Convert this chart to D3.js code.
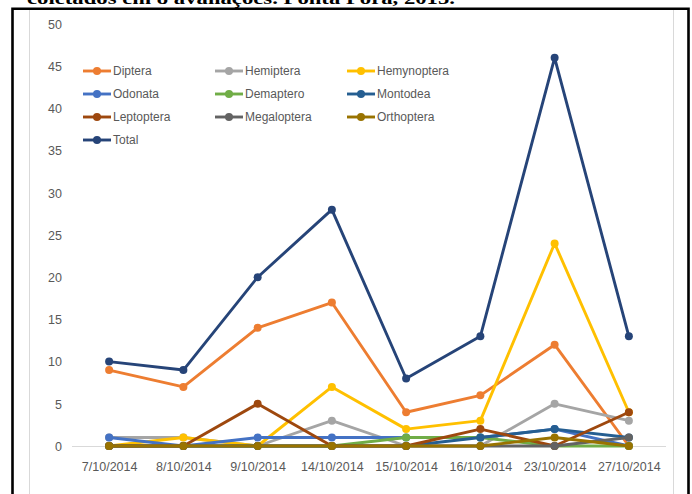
<!DOCTYPE html>
<html>
<head>
<meta charset="utf-8">
<script src="https://cdn.jsdelivr.net/npm/d3@7"></script>
<style>
  html, body { margin: 0; padding: 0; background: #fff; }
  svg { display: block; }
</style>
</head>
<body>
<svg id="chart" width="692" height="494"></svg>
<script>
// Sampling dates
const dates = ["7/10/2014", "8/10/2014", "9/10/2014", "14/10/2014", "15/10/2014", "16/10/2014", "23/10/2014", "27/10/2014"];

// Insects collected per order on each date
const diptera     = [9, 7, 14, 17, 4, 6, 12, 0];
const hemiptera   = [1, 1, 0, 3, 0, 0, 5, 3];
const hemynoptera = [0, 1, 0, 7, 2, 3, 24, 4];
const odonata     = [1, 0, 1, 1, 1, 1, 2, 0];
const demaptero   = [0, 0, 0, 0, 1, 1, 0, 0];
const montodea    = [0, 0, 0, 0, 0, 1, 2, 1];
const leptoptera  = [0, 0, 5, 0, 0, 2, 0, 4];
const megaloptera = [0, 0, 0, 0, 0, 0, 0, 1];
const orthoptera  = [0, 0, 0, 0, 0, 0, 1, 0];
const total       = [10, 9, 20, 28, 8, 13, 46, 13];

const seriesNames = ["Diptera", "Hemiptera", "Hemynoptera", "Odonata", "Demaptero", "Montodea", "Leptoptera", "Megaloptera", "Orthoptera", "Total"];
const seriesValues = [diptera, hemiptera, hemynoptera, odonata, demaptero, montodea, leptoptera, megaloptera, orthoptera, total];
const seriesColors = ["#ED7D31", "#A5A5A5", "#FFC000", "#4472C4", "#70AD47", "#255E91", "#9E480E", "#636363", "#997300", "#264478"];

const yTicks = [0, 5, 10, 15, 20, 25, 30, 35, 40, 45, 50];

const captionText = "coletados em 8 avaliações. Ponta Porã, 2015.";

const svg = d3.select("#chart");

// Caption line above the figure frame (partly cut off by the top edge)
svg.append("text")
  .attr("x", 27)
  .attr("y", 4)
  .attr("font-family", "'Liberation Serif', 'Times New Roman', serif")
  .attr("font-weight", "bold")
  .attr("font-size", 17)
  .attr("fill", "#000")
  .attr("textLength", 428)
  .attr("lengthAdjust", "spacingAndGlyphs")
  .text(captionText);

// Chart area border (light gray)
svg.append("line").attr("x1", 29.5).attr("x2", 29.5).attr("y1", 9).attr("y2", 494)
  .attr("stroke", "#d9d9d9").attr("stroke-width", 1);
svg.append("line").attr("x1", 673.5).attr("x2", 673.5).attr("y1", 9).attr("y2", 494)
  .attr("stroke", "#d9d9d9").attr("stroke-width", 1);

// Black figure frame
svg.append("path")
  .attr("d", "M12.5,500 L12.5,8.75 L688.5,8.75 L688.5,500")
  .attr("fill", "none")
  .attr("stroke", "#000")
  .attr("stroke-width", 2.6);

const x = d3.scalePoint().domain(dates).range([72, 666]).padding(0.5);
const y = d3.scaleLinear().domain([0, 50]).range([446, 24]);

const fontFamily = "'Liberation Sans', Arial, sans-serif";
const textColor = "#595959";

// Y axis (labels only)
const yAxis = d3.axisLeft(y).tickValues(yTicks).tickSize(0).tickPadding(0);
const gy = svg.append("g").attr("transform", "translate(62,0)").call(yAxis);
gy.select(".domain").remove();
gy.selectAll("text")
  .attr("font-family", fontFamily)
  .attr("font-size", 12.5)
  .attr("fill", textColor)
  .attr("dy", "0.35em");

// X axis: baseline plus date labels
const xAxis = d3.axisBottom(x).tickSize(0).tickPadding(16);
const gx = svg.append("g").attr("transform", `translate(0,${y(0)})`).call(xAxis);
gx.select(".domain").attr("stroke", "#d9d9d9").attr("stroke-width", 1)
  .attr("d", "M72,0.5H666");
gx.selectAll("text")
  .attr("font-family", fontFamily)
  .attr("font-size", 12.5)
  .attr("fill", textColor);

// Series lines and markers
const line = d3.line().x((d, i) => x(dates[i])).y(d => y(d));

seriesValues.forEach((vals, si) => {
  const g = svg.append("g").attr("class", "series");
  g.append("path")
    .datum(vals)
    .attr("d", line)
    .attr("fill", "none")
    .attr("stroke", seriesColors[si])
    .attr("stroke-width", 2.9)
    .attr("stroke-linejoin", "round");
  g.selectAll("circle")
    .data(vals)
    .join("circle")
    .attr("cx", (d, i) => x(dates[i]))
    .attr("cy", d => y(d))
    .attr("r", 4)
    .attr("fill", seriesColors[si]);
});

// Legend: three columns
const legendCols = [83, 215, 347];
const legendRows = [71, 94, 117, 140];
const legend = svg.append("g");
seriesNames.forEach((name, i) => {
  const cx = legendCols[i % 3];
  const cy = legendRows[Math.floor(i / 3)];
  const item = legend.append("g").attr("transform", `translate(${cx},${cy})`);
  item.append("line").attr("x1", 0).attr("x2", 28).attr("y1", 0).attr("y2", 0)
    .attr("stroke", seriesColors[i]).attr("stroke-width", 2.9);
  item.append("circle").attr("cx", 14).attr("cy", 0).attr("r", 4).attr("fill", seriesColors[i]);
  item.append("text")
    .attr("x", 30)
    .attr("y", 0)
    .attr("dy", "0.35em")
    .attr("font-family", fontFamily)
    .attr("font-size", 12)
    .attr("fill", textColor)
    .text(name);
});
</script>
</body>
</html>
